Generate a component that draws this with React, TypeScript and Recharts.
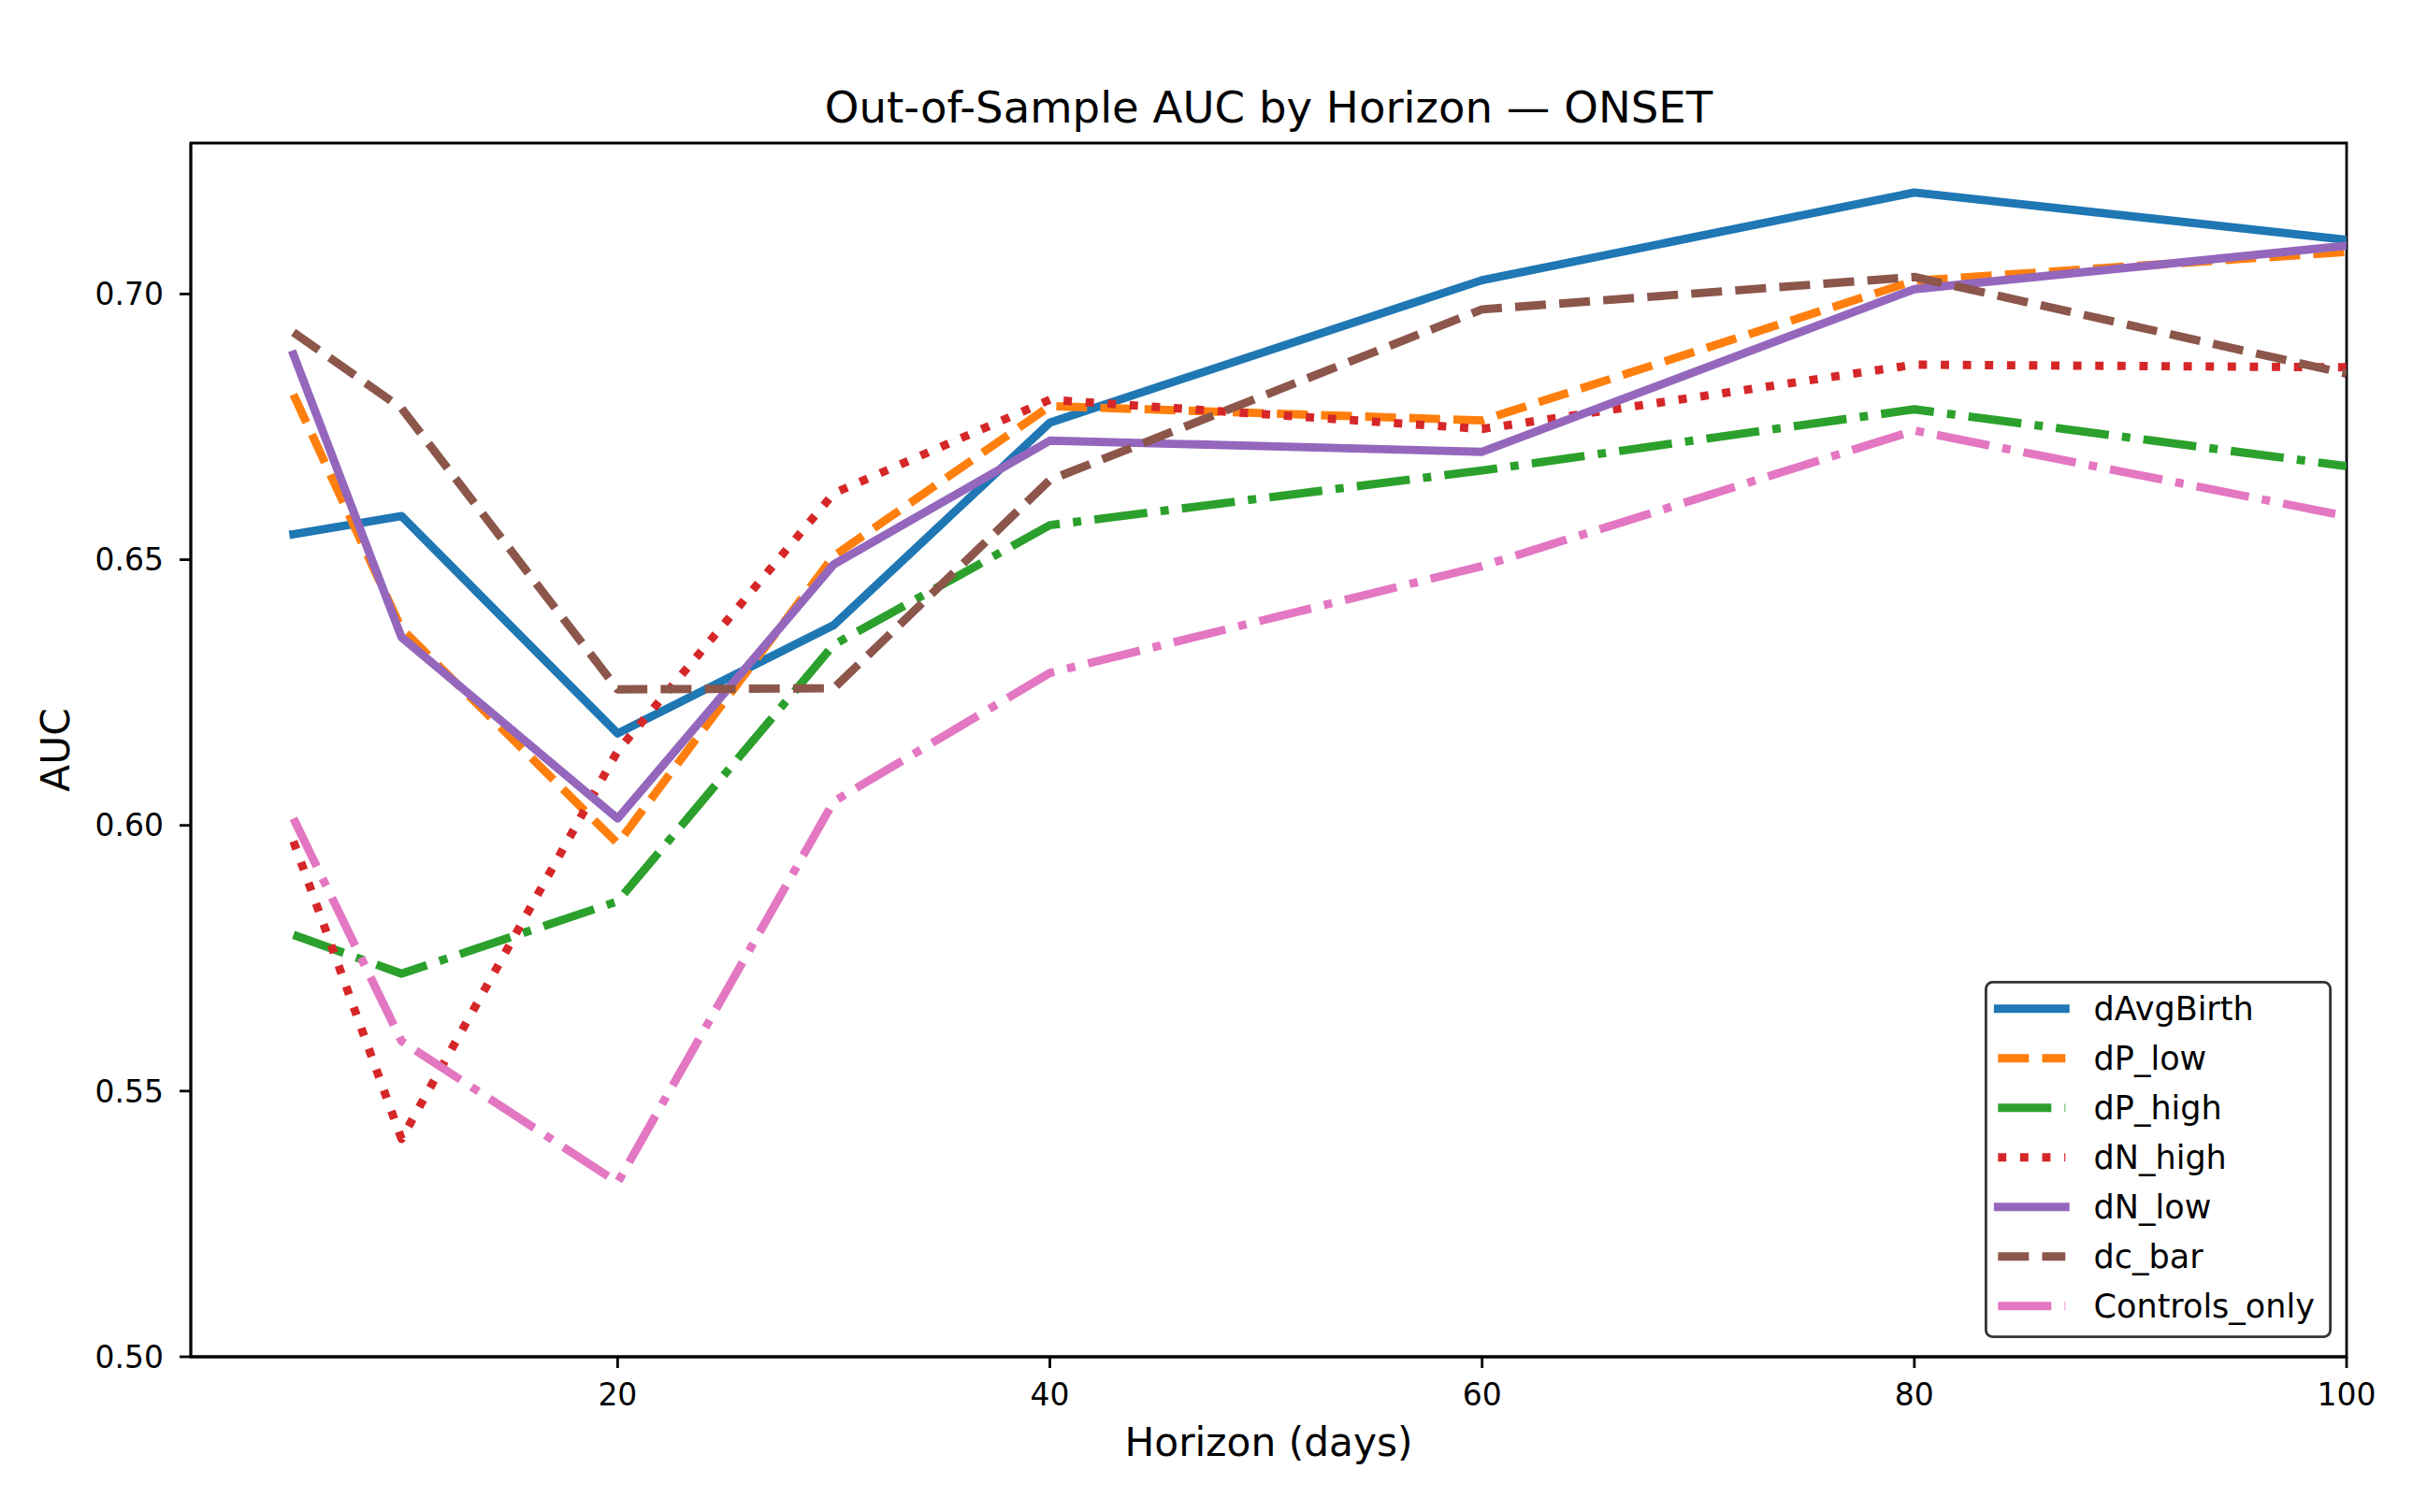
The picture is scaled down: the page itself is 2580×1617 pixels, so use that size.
import { LineChart, Line, XAxis, YAxis, Legend, ReferenceArea, Customized } from "recharts";

// horizon (days) and out-of-sample AUC per feature set
const HORIZONS = [5, 10, 20, 30, 40, 60, 80, 100];
const D_AVG_BIRTH = [0.6548, 0.6582, 0.6173, 0.6377, 0.6758, 0.7026, 0.7191, 0.7102];
const DP_LOW = [0.6811, 0.637, 0.5966, 0.6507, 0.6789, 0.6762, 0.7025, 0.7079];
const DP_HIGH = [0.5794, 0.5721, 0.5857, 0.634, 0.6565, 0.6668, 0.6783, 0.6676];
const DN_HIGH = [0.597, 0.541, 0.614, 0.6625, 0.6801, 0.6746, 0.6867, 0.6862];
const DN_LOW = [0.6886, 0.6354, 0.6013, 0.6491, 0.6724, 0.6703, 0.7009, 0.7091];
const DC_BAR = [0.6928, 0.6785, 0.6256, 0.6258, 0.665, 0.6971, 0.7032, 0.685];
const CONTROLS_ONLY = [0.6013, 0.5594, 0.5328, 0.6045, 0.6287, 0.6488, 0.6743, 0.6582];

const X_TICKS = [20, 40, 60, 80, 100];
const Y_TICKS = [0.5, 0.55, 0.6, 0.65, 0.7];
const X_MIN = 0.25;
const Y_MAX = 0.7284;

const LW = 8.9;
const DASHED = "33 14.2";
const DOTTED = "8.9 14.7";
const DASHDOT = "57 14.2 8.9 14.2";

const SERIES = [
  { key: "dAvgBirth", values: D_AVG_BIRTH, color: "#1f77b4", dash: "" },
  { key: "dP_low", values: DP_LOW, color: "#ff7f0e", dash: DASHED },
  { key: "dP_high", values: DP_HIGH, color: "#2ca02c", dash: DASHDOT },
  { key: "dN_high", values: DN_HIGH, color: "#d62728", dash: DOTTED },
  { key: "dN_low", values: DN_LOW, color: "#9467bd", dash: "" },
  { key: "dc_bar", values: DC_BAR, color: "#8c564b", dash: DASHED },
  { key: "Controls_only", values: CONTROLS_ONLY, color: "#e377c2", dash: DASHDOT },
];

const data = HORIZONS.map((h, i) => {
  const row: Record<string, number> = { h };
  SERIES.forEach((s) => (row[s.key] = s.values[i]));
  return row;
});

const W = 2580;
const H = 1617;
const LEG_W = 371;
const LEG_H = 382;

function LegendBox({ payload }: any) {
  const items = SERIES.map((s) => ({
    s,
    entry: (payload || []).find((p: any) => p.dataKey === s.key),
  })).filter((x) => x.entry);
  return (
    <svg width={LEG_W} height={LEG_H} style={{ display: "block" }}>
      <rect x={1.4} y={1.4} width={LEG_W - 2.8} height={LEG_H - 2.8} rx={7}
        fill="#fff" stroke="#333" strokeWidth={2.8} />
      {items.map(({ s, entry }, i) => {
        const cy = 29.7 + i * 53;
        return (
          <g key={s.key}>
            <line x1={14.3} x2={86.3} y1={cy} y2={cy} stroke={entry.color} strokeWidth={LW}
              strokeDasharray={s.dash || undefined} strokeLinecap={s.dash ? "butt" : "square"} />
            <text x={116.6} y={cy} dy="0.365em" fontSize={35} fill="#000"
              fontFamily="DejaVu Sans">{entry.value}</text>
          </g>
        );
      })}
    </svg>
  );
}

function Titles() {
  return (
    <g fontFamily="DejaVu Sans" fill="#000">
      <text x={1356.5} y={131} textAnchor="middle" fontSize={46.6}>
        Out-of-Sample AUC by Horizon — ONSET
      </text>
      <text x={1356.5} y={1557} textAnchor="middle" fontSize={42.3}>
        Horizon (days)
      </text>
      <text x={74} y={802} textAnchor="middle" fontSize={42.3} transform="rotate(-90 74 802)">
        AUC
      </text>
    </g>
  );
}

export default function App() {
  const axisStroke = { stroke: "#000", strokeWidth: 2.8 };
  const tick = { fontSize: 33, fill: "#000", fontFamily: "DejaVu Sans" };
  return (
    <div style={{ position: "absolute", left: 0, top: 0, width: W, height: H, background: "#fff" }}>
      <LineChart width={W} height={H} data={data}
        margin={{ top: 153, right: 71, left: 54, bottom: 36 }}
        style={{ fontFamily: "DejaVu Sans" }}>
        <XAxis dataKey="h" type="number" domain={[X_MIN, 100]} ticks={X_TICKS} allowDataOverflow
          interval={0} height={130} tickSize={12} tickMargin={17}
          axisLine={axisStroke} tickLine={axisStroke} tick={tick} />
        <YAxis type="number" domain={[0.5, Y_MAX]} ticks={Y_TICKS} allowDataOverflow
          interval={0} width={150} tickSize={12} tickMargin={17}
          tickFormatter={(v: number) => v.toFixed(2)}
          axisLine={axisStroke} tickLine={axisStroke} tick={tick} />
        {SERIES.map((s) => (
          <Line key={s.key} type="linear" dataKey={s.key} name={s.key} stroke={s.color}
            strokeWidth={LW} strokeDasharray={s.dash || undefined}
            strokeLinecap={s.dash ? "butt" : "square"} strokeLinejoin="round"
            dot={false} activeDot={false} isAnimationActive={false} />
        ))}
        <ReferenceArea x1={X_MIN} x2={100} y1={0.5} y2={Y_MAX} fill="none" fillOpacity={0}
          stroke="#000" strokeWidth={2.8} ifOverflow="visible" />
        <Legend layout="vertical" align="center" verticalAlign="middle"
          content={<LegendBox />}
          wrapperStyle={{ left: 2121.7, top: 1049.3, width: LEG_W, height: LEG_H }} />
        <Customized component={<Titles />} />
      </LineChart>
    </div>
  );
}
